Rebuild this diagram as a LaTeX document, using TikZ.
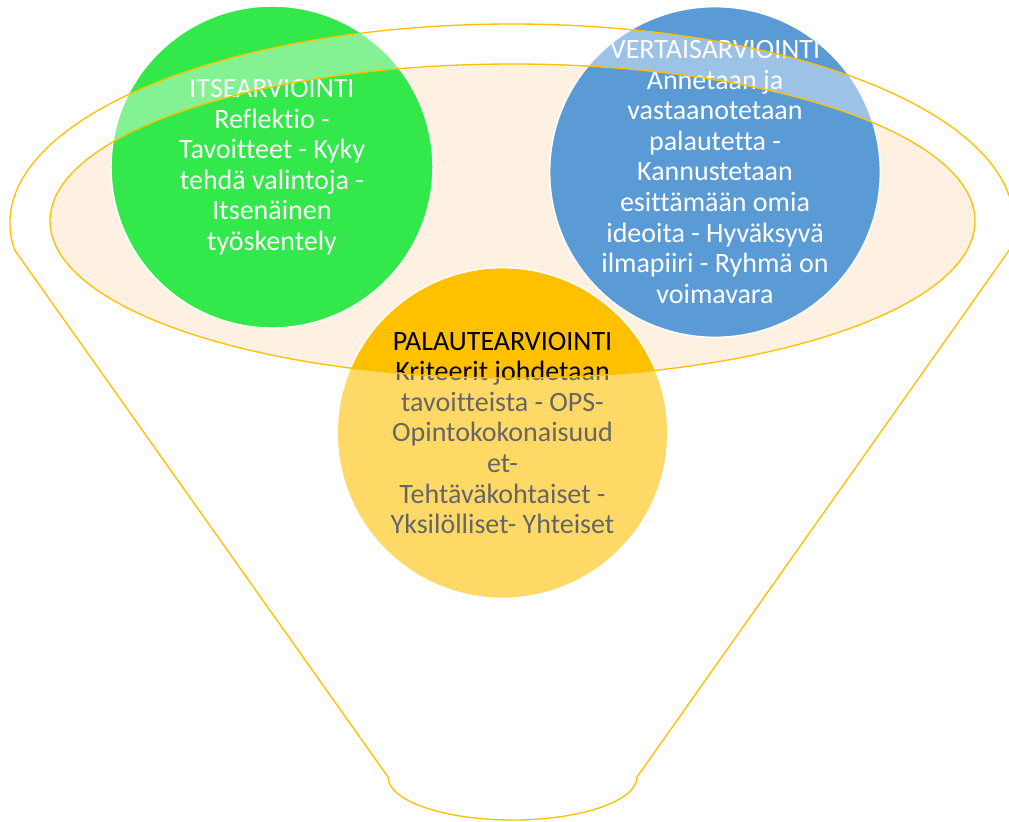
\documentclass[tikz,border=0pt]{standalone}
\usepackage{fontspec}
\setmainfont{Carlito}[Ligatures=NoCommon]
\definecolor{funnelorange}{HTML}{FFC000}
\definecolor{itsegreen}{HTML}{33E84B}
\definecolor{vertaisblue}{HTML}{5B9BD5}
\definecolor{rimpeach}{HTML}{FEF1E2}
\tikzset{
  bubble/.style={circle, draw=white, line width=1.1pt, minimum size=#1, inner sep=0pt},
  bubbletext/.style={align=center, font=\fontsize{21}{22.9}\selectfont, text=#1},
  funnelline/.style={draw=funnelorange, line width=1pt}
}
\begin{document}
\begin{tikzpicture}[x=0.75pt, y=-0.75pt]
        \useasboundingbox (0,0) rectangle (1009,821);
        % rim of the funnel, under the circles
        \fill[rimpeach] (512.5,221) ellipse [x radius=462.5, y radius=157];

        \node[bubble=241.5pt, fill=itsegreen] (itse) at (272,167) {};
        \node[bubble=248pt, fill=vertaisblue] (vertais) at (715,172) {};
        \node[bubble=248pt, fill=funnelorange] (palaute) at (502.5,433) {};

        \node[bubbletext=white] (itsetext) at (itse.center) {ITSEARVIOINTI\\Reflektio -\\Tavoitteet - Kyky\\tehdä valintoja -\\Itsenäinen\\työskentely};
        \node[bubbletext=white] (vertaistext) at (vertais.center) {VERTAISARVIOINTI\\Annetaan ja\\vastaanotetaan\\palautetta -\\Kannustetaan\\esittämään omia\\ideoita - Hyväksyvä\\ilmapiiri - Ryhmä on\\voimavara};
        \node[bubbletext=black] (palautetext) at (palaute.center) {PALAUTEARVIOINTI\\Kriteerit johdetaan\\tavoitteista - OPS-\\Opintokokonaisuud\\et-\\Tehtäväkohtaiset -\\Yksilölliset- Yhteiset};

        % funnel body over the circles
        \fill[white, fill opacity=0.4, even odd rule] (14.6,250) arc[start angle=172.2, end angle=367.8, x radius=502, y radius=199] -- (637,777) .. controls (637,800.7) and (581.3,820) .. (512.5,820) .. controls (443.7,820) and (388,800.7) .. (388,777) -- cycle (512.5,221) ellipse [x radius=462.5, y radius=157];
        \draw[funnelline] (14.6,250) arc[start angle=172.2, end angle=367.8, x radius=502, y radius=199] -- (637,777) .. controls (637,800.7) and (581.3,820) .. (512.5,820) .. controls (443.7,820) and (388,800.7) .. (388,777) -- cycle;
        \draw[funnelline] (512.5,221) ellipse [x radius=462.5, y radius=157];
    \end{tikzpicture}
\end{document}
